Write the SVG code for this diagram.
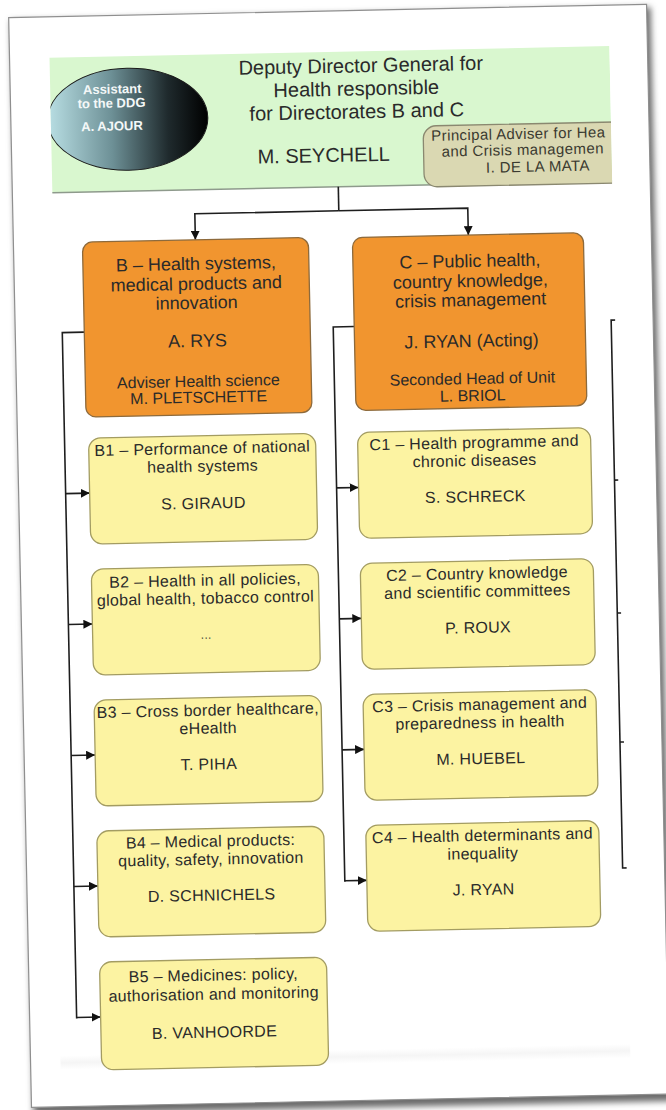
<svg xmlns="http://www.w3.org/2000/svg" width="666" height="1110" viewBox="0 0 666 1110">
<defs>
<style>
text{font-family:"Liberation Sans",Arial,sans-serif;fill:#2a2a2a}
.t{font-size:20px;text-anchor:middle}
.ov{font-size:13px;font-weight:bold;fill:#f4f8f8;text-anchor:middle}
.pa{font-size:15px;fill:#3a3a30;letter-spacing:0.4px}
.dir{fill:#f1952f;stroke:#8d6a3c;stroke-width:1.3}
.dt{font-size:18px;text-anchor:middle}
.da{font-size:16px;text-anchor:middle}
.unit{fill:#fcf3a2;stroke:#a39c62;stroke-width:1.3}
.ut{font-size:16px;text-anchor:middle;letter-spacing:0.3px}
.conn{fill:none;stroke:#1e1e1e;stroke-width:1.6}
.arr{fill:none;stroke:#1e1e1e;stroke-width:1.6;marker-end:url(#ah)}
</style>
<marker id="ah" viewBox="0 0 10 10" refX="10" refY="5" markerWidth="9" markerHeight="9" markerUnits="userSpaceOnUse" orient="auto"><path d="M0,0 L10,5 L0,10 z" fill="#111"/></marker>
<linearGradient id="ovg" x1="0" y1="0" x2="1" y2="0">
<stop offset="0" stop-color="#b9dfe4"/>
<stop offset="0.4" stop-color="#6d9096"/>
<stop offset="0.75" stop-color="#1f2a2d"/>
<stop offset="1" stop-color="#000000"/>
</linearGradient>
<linearGradient id="band" x1="0" y1="0" x2="0" y2="1">
<stop offset="0" stop-color="#ffffff"/>
<stop offset="0.5" stop-color="#f5f5f5"/>
<stop offset="1" stop-color="#ffffff"/>
</linearGradient>
<clipPath id="content"><rect x="20" y="11" width="600" height="1090"/></clipPath>
<clipPath id="hdr"><rect x="60" y="52" width="560" height="140"/></clipPath>
<filter id="sh" x="-5%" y="-5%" width="110%" height="110%"><feGaussianBlur stdDeviation="3"/></filter>
</defs>
<rect x="0" y="0" width="666" height="1110" fill="#ffffff"/>
<g transform="rotate(-1.2 333 555)">
<rect x="22" y="14" width="640" height="1094" fill="#6a6a6a" filter="url(#sh)"/>
<rect x="20" y="11" width="638" height="1090" fill="#ffffff" stroke="#8f8f8f" stroke-width="1.2"/>
<g clip-path="url(#content)">
<rect x="50" y="1050" width="570" height="14" fill="url(#band)"/>

<g id="ddg">
<rect x="60" y="52" width="560" height="135" fill="#d9f7cf"/>
<line x1="60" y1="187" x2="620" y2="187" stroke="#8e9a8c" stroke-width="1.5"/>
<text class="t" x="371" y="73">Deputy Director General for</text>
<text class="t" x="366" y="96">Health responsible</text>
<text class="t" x="366" y="119">for Directorates B and C</text>
<text class="t" x="332" y="162">M. SEYCHELL</text>
</g>

<g id="assistant" clip-path="url(#hdr)">
<ellipse cx="137" cy="115" rx="80" ry="51" fill="url(#ovg)" stroke="#1a1a1a" stroke-width="1"/>
<text class="ov" x="122" y="89">Assistant</text>
<text class="ov" x="121" y="103">to the  DDG</text>
<text class="ov" x="121" y="126">A. AJOUR</text>
</g>

<g id="adviser" clip-path="url(#content)">
<rect x="432" y="128" width="210" height="61" rx="13" fill="#dad8b2" stroke="#8a8870" stroke-width="1.3"/>
<text class="pa" x="440" y="143">Principal Adviser for Hea</text>
<text class="pa" x="450" y="159">and Crisis managemen</text>
<text class="pa" x="546" y="176" text-anchor="middle">I. DE LA MATA</text>
</g>

<g id="connectors">
<path class="conn" d="M346,187 V211"/>
<path class="arr" d="M346,211 H202 V237"/>
<path class="arr" d="M346,211 H475 V238"/>
<path class="conn" d="M89,327 H67 V1013"/>
<path class="arr" d="M67,488 H91"/>
<path class="arr" d="M67,619 H91"/>
<path class="arr" d="M67,750 H91"/>
<path class="arr" d="M67,881 H91"/>
<path class="arr" d="M67,1012 H91"/>
<path class="conn" d="M359,327 H338 V882"/>
<path class="arr" d="M338,488 H360"/>
<path class="arr" d="M338,619 H360"/>
<path class="arr" d="M338,750 H360"/>
<path class="arr" d="M338,881 H360"/>
<path class="conn" d="M622,326 H616 V874 H622"/>
<path class="conn" d="M616,486 H620 M616,619 H620 M616,748 H620"/>
</g>

<g id="dirB">
<rect class="dir" x="89" y="237" width="226" height="175" rx="10"/>
<text class="dt" x="202" y="267">B – Health systems,</text>
<text class="dt" x="202" y="287">medical products and</text>
<text class="dt" x="202" y="306">innovation</text>
<text class="dt" x="202" y="344">A. RYS</text>
<text class="da" x="202" y="384">Adviser Health science</text>
<text class="da" x="202" y="400">M. PLETSCHETTE</text>
</g>

<g id="dirC">
<rect class="dir" x="359" y="238" width="231" height="173" rx="10"/>
<text class="dt" x="476" y="270">C – Public health,</text>
<text class="dt" x="476" y="290">country knowledge,</text>
<text class="dt" x="476" y="309">crisis management</text>
<text class="dt" x="476" y="350">J. RYAN (Acting)</text>
<text class="da" x="476" y="387">Seconded Head of Unit</text>
<text class="da" x="476" y="404">L. BRIOL</text>
</g>

<g id="B1">
<rect class="unit" x="91" y="433" width="227" height="106" rx="12"/>
<text class="ut" x="204.5" y="451">B1 – Performance of national</text>
<text class="ut" x="204.5" y="469">health systems</text>
<text class="ut" x="204.5" y="506">S. GIRAUD</text>
</g>
<g id="B2">
<rect class="unit" x="91" y="564" width="227" height="106" rx="12"/>
<text class="ut" x="204.5" y="583">B2 – Health in all policies,</text>
<text class="ut" x="204.5" y="601">global health, tobacco control</text>
<text class="ut" x="204.5" y="636" style="font-size:12px">...</text>
</g>
<g id="B3">
<rect class="unit" x="91" y="695" width="227" height="106" rx="12"/>
<text class="ut" x="204.5" y="713">B3 – Cross border healthcare,</text>
<text class="ut" x="204.5" y="731">eHealth</text>
<text class="ut" x="204.5" y="767">T. PIHA</text>
</g>
<g id="B4">
<rect class="unit" x="91" y="826" width="227" height="106" rx="12"/>
<text class="ut" x="204.5" y="844">B4 – Medical products:</text>
<text class="ut" x="204.5" y="862">quality, safety, innovation</text>
<text class="ut" x="204.5" y="898">D. SCHNICHELS</text>
</g>
<g id="B5">
<rect class="unit" x="91" y="957" width="227" height="108" rx="12"/>
<text class="ut" x="204.5" y="978">B5 – Medicines: policy,</text>
<text class="ut" x="204.5" y="997">authorisation and monitoring</text>
<text class="ut" x="204.5" y="1035">B. VANHOORDE</text>
</g>

<g id="C1">
<rect class="unit" x="360" y="433" width="233" height="106" rx="12"/>
<text class="ut" x="476.5" y="451">C1 – Health programme and</text>
<text class="ut" x="476.5" y="469">chronic diseases</text>
<text class="ut" x="476.5" y="505">S. SCHRECK</text>
</g>
<g id="C2">
<rect class="unit" x="360" y="564" width="233" height="106" rx="12"/>
<text class="ut" x="476.5" y="582">C2 – Country knowledge</text>
<text class="ut" x="476.5" y="600">and scientific committees</text>
<text class="ut" x="476.5" y="636">P. ROUX</text>
</g>
<g id="C3">
<rect class="unit" x="360" y="695" width="233" height="106" rx="12"/>
<text class="ut" x="476.5" y="713">C3 – Crisis management and</text>
<text class="ut" x="476.5" y="731">preparedness in health</text>
<text class="ut" x="476.5" y="767">M. HUEBEL</text>
</g>
<g id="C4">
<rect class="unit" x="360" y="826" width="233" height="106" rx="12"/>
<text class="ut" x="476.5" y="844">C4 – Health determinants and</text>
<text class="ut" x="476.5" y="862">inequality</text>
<text class="ut" x="476.5" y="898">J. RYAN</text>
</g>
</g>
</g>
</svg>
